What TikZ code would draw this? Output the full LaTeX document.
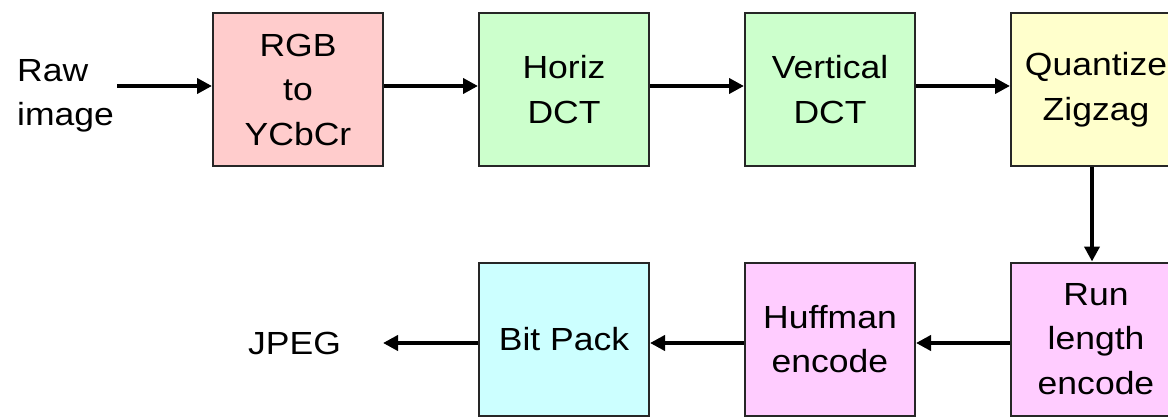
\documentclass[tikz,border=0pt]{standalone}
\usepackage{fontspec}
\setmainfont{Liberation Sans}[FakeStretch=1.11]
\usetikzlibrary{arrows.meta}
\definecolor{fillpink}{HTML}{FFCCCC}
\definecolor{fillgreen}{HTML}{CCFFCC}
\definecolor{fillyellow}{HTML}{FFFFCC}
\definecolor{fillmagenta}{HTML}{FFCCFF}
\definecolor{fillcyan}{HTML}{CCFFFF}
\tikzset{
  stage/.style={draw=black!85, line width=2pt, minimum width=170pt, minimum height=153pt,
    inner sep=0pt, align=center, font=\fontsize{32}{44.5}\selectfont},
  label/.style={inner sep=0pt, font=\fontsize{32}{44.5}\selectfont},
  flow/.style={line width=4pt, -{Triangle[length=15pt,width=15pt]}}
}
\begin{document}
\begin{tikzpicture}[x=1pt,y=-1pt]
  \useasboundingbox (0,0) rectangle (1168,417);
  \clip (0,0) rectangle (1168,417);
  % top row of stages
  \node[stage, fill=fillpink]   (rgb)  at (298,89.5)  {RGB\\to\\YCbCr};
  \node[stage, fill=fillgreen]  (hdct) at (564,89.5)  {Horiz\\DCT};
  \node[stage, fill=fillgreen]  (vdct) at (830,89.5)  {Vertical\\DCT};
  \node[stage, fill=fillyellow] (quant) at (1096,89.5) {Quantize\\Zigzag};
  % bottom row of stages
  \node[stage, fill=fillmagenta] (rle)  at (1096,339) {Run\\length\\encode};
  \node[stage, fill=fillmagenta] (huff) at (830,339)  {Huffman\\encode};
  \node[stage, fill=fillcyan]    (pack) at (564,339)  {Bit Pack};
  % input and output labels
  \node[label, align=left, anchor=west] (raw) at (17,96) {Raw\\image};
  \node[label] (jpeg) at (294.5,343) {JPEG};
  \coordinate (rawend) at (117,86);
  \coordinate (jpegend) at (383,343);
  % connectors
  \draw[flow] (rawend) -- ([yshift=3.5pt]rgb.west);
  \draw[flow] ([yshift=3.5pt]rgb.east) -- ([yshift=3.5pt]hdct.west);
  \draw[flow] ([yshift=3.5pt]hdct.east) -- ([yshift=3.5pt]vdct.west);
  \draw[flow] ([yshift=3.5pt]vdct.east) -- ([yshift=3.5pt]quant.west);
  \draw[flow] ([xshift=-4pt]quant.south) -- ([xshift=-4pt]rle.north);
  \draw[flow] ([yshift=-4pt]rle.west) -- ([yshift=-4pt]huff.east);
  \draw[flow] ([yshift=-4pt]huff.west) -- ([yshift=-4pt]pack.east);
  \draw[flow] ([yshift=-4pt]pack.west) -- (jpegend);
\end{tikzpicture}
\end{document}
